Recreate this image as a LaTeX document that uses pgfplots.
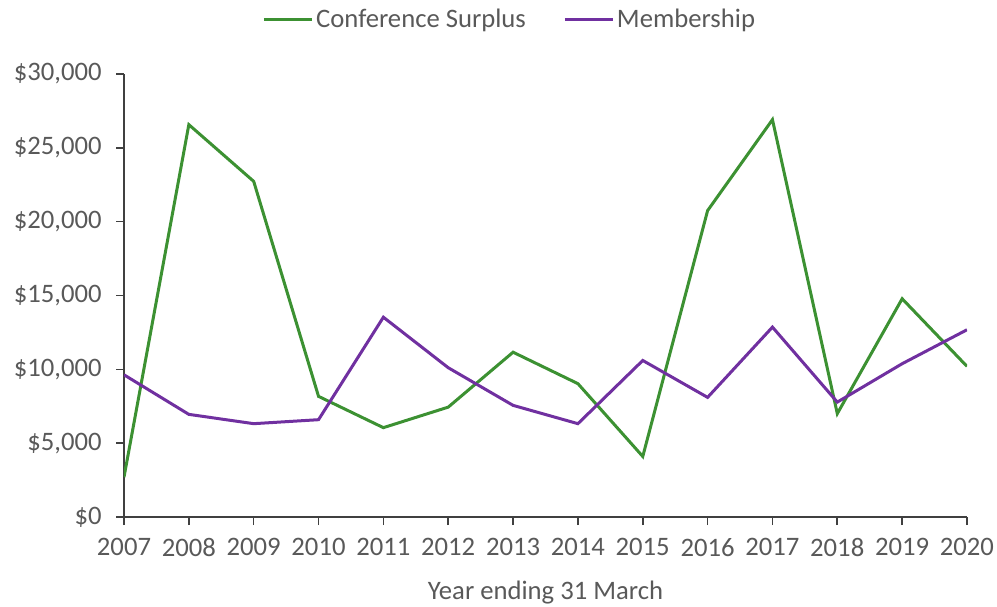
\documentclass[border=0pt]{standalone}
\usepackage{pgfplots}
\pgfplotsset{compat=1.18}
\usepackage{fontspec}
\setmainfont{Carlito}
\definecolor{csgreen}{RGB}{60,145,50}
\definecolor{mpurple}{RGB}{112,48,160}
\definecolor{axisgrey}{RGB}{64,64,64}
\definecolor{textgrey}{RGB}{89,89,89}

\begin{document}
\fontsize{20}{24}\selectfont
\begin{tikzpicture}[x=0.75pt,y=0.75pt]
% page = 997 x 607 px, plot area lower-left at (124,517) px
\path[use as bounding box] (-124,-90) rectangle (873,517);
\begin{axis}[
  scale only axis,
  width=632.25pt, height=332.25pt,
  xmin=2007, xmax=2020,
  ymin=0, ymax=30000,
  scaled y ticks=false,
  axis lines=left,
  axis line style={axisgrey, line width=1.2pt, -},
  tick align=outside,
  tick style={axisgrey, line width=1.2pt},
  major tick length=6pt,
  xtick={2007,...,2020},
  xticklabels={2007,2008,2009,2010,2011,2012,2013,2014,2015,2016,2017,2018,2019,2020},
  ytick={0,5000,10000,15000,20000,25000,30000},
  yticklabels={{\$0},{\$5,000},{\$10,000},{\$15,000},{\$20,000},{\$25,000},{\$30,000}},
  ticklabel style={text=textgrey, font=\fontsize{20}{24}\selectfont},
  xticklabel style={yshift=-3pt},
  yticklabel style={xshift=-4pt},
  xlabel={Year ending 31 March},
  xlabel style={text=textgrey, font=\fontsize{20}{24}\selectfont, yshift=-5pt},
  legend columns=2,
  legend style={draw=none, fill=none, at={(0.458,1.122)}, anchor=center,
    font=\fontsize{20}{24}\selectfont, text=textgrey,
    /tikz/every even column/.append style={column sep=26pt}},
  legend image code/.code={\draw[#1, line width=2.25pt] (0pt,0pt) -- (36pt,0pt);},
  legend cell align=left,
]
\addplot[csgreen, line width=2.25pt, mark=none] coordinates {
(2007,2700) (2008,26570) (2009,22730) (2010,8170) (2011,6050) (2012,7440)
(2013,11160) (2014,9030) (2015,4100) (2016,20750) (2017,26910) (2018,7000)
(2019,14780) (2020,10200)
};
\addlegendentry{Conference Surplus}
\addplot[mpurple, line width=2.25pt, mark=none] coordinates {
(2007,9630) (2008,6950) (2009,6320) (2010,6590) (2011,13530) (2012,10110)
(2013,7560) (2014,6320) (2015,10600) (2016,8100) (2017,12860) (2018,7780)
(2019,10380) (2020,12680)
};
\addlegendentry{Membership}
\end{axis}
\end{tikzpicture}
\end{document}
